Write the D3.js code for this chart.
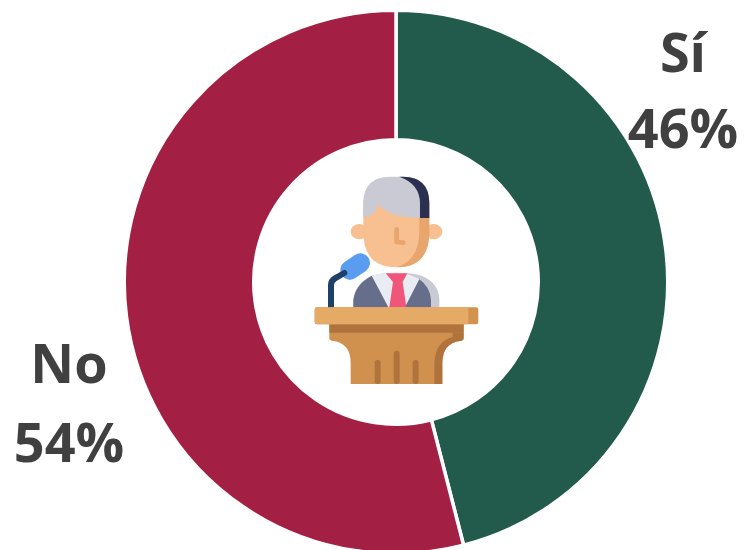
<!DOCTYPE html>
<html>
<head>
<meta charset="utf-8">
<script src="https://d3js.org/d3.v7.min.js"></script>
<style>
    body { margin: 0; background: #fff; }
    svg { display: block; }
    .label { font-family: "Open Sans", sans-serif; font-weight: 700; font-size: 54px; fill: #404040; text-anchor: middle; }
</style>
</head>
<body>
<script>
const categories = ['Sí', 'No'];
const values = [46, 54];
const colors = ['#225a4c', '#a32044'];

const w = 744, h = 550;
const cx = 396, cy = 282;
const outer = 271.75, inner = 142.25;

const svg = d3.select('body').append('svg')
    .attr('width', w)
    .attr('height', h);

const pie = d3.pie().sort(null).value(d => d.value);
const arc = d3.arc().innerRadius(inner).outerRadius(outer);
const color = d3.scaleOrdinal(categories, colors);

const slices = categories.map((c, i) => ({ name: c, value: values[i] }));

svg.append('g')
    .attr('transform', 'translate(' + cx + ',' + cy + ')')
    .selectAll('path')
    .data(pie(slices))
    .enter()
    .append('path')
    .attr('d', arc)
    .attr('fill', d => color(d.data.name))
    .attr('stroke', '#fff')
    .attr('stroke-width', 3.5);

// labels sit outside the ring, one per slice
const labelPos = { 'Sí': [683, 72, 148], 'No': [69, 383, 462] };

slices.forEach(s => {
    const p = labelPos[s.name];
    svg.append('text').attr('class', 'label').attr('x', p[0]).attr('y', p[1]).text(s.name);
    svg.append('text').attr('class', 'label').attr('x', p[0]).attr('y', p[2]).text(s.value + '%');
});

// speaker icon in the hole, drawn in 3x units
const icon = svg.append('g').attr('transform', 'translate(300,160) scale(0.3333)');

function shape(d, fill) {
    icon.append('path').attr('d', d).attr('fill', fill);
}
function line(d, stroke, width) {
    icon.append('path').attr('d', d).attr('fill', 'none').attr('stroke', stroke)
        .attr('stroke-width', width).attr('stroke-linecap', 'round').attr('stroke-linejoin', 'round');
}

// ears
icon.append('ellipse').attr('cx', 178).attr('cy', 215).attr('rx', 26).attr('ry', 23).attr('fill', '#f8bf90');
icon.append('ellipse').attr('cx', 401).attr('cy', 215).attr('rx', 26).attr('ry', 23).attr('fill', '#f8bf90');
// face
shape('M190,120 L190,215 Q190,322 290,322 Q388,322 388,215 L388,120 Z', '#f8bf90');
shape('M358,170 L388,170 L388,215 Q388,322 290,322 Q358,300 358,215 Z', '#e8a56e');
line('M290,208 L290,246 L310,248', '#e8a56e', 14);
// hair
shape('M190,172 L190,130 Q190,50 270,50 L310,50 Q388,50 388,130 L388,174 L360,174 Q265,172 235,133 Q225,170 190,172 Z', '#c9cad3');
shape('M298,50 L310,50 Q388,50 388,130 L388,174 L360,174 L360,130 Q360,72 298,50 Z', '#2c3050');
// body
shape('M160,442 L160,420 Q165,370 215,347 Q240,338 290,338 Q340,338 365,347 Q418,370 418,420 L418,442 Z', '#c9cad3');
shape('M215,347 Q240,338 290,338 Q325,338 358,358 L315,442 L265,442 Z', '#e9edf3');
shape('M160,442 L160,420 Q165,375 215,347 L265,442 Z', '#676e8b');
shape('M358,358 L315,442 L393,442 L393,420 Q390,380 358,358 Z', '#676e8b');
shape('M257,340 L322,340 L308,366 L319,442 L268,442 L279,366 Z', '#f0567a');
// microphone
line('M150,330 L181,309', '#5a9df0', 58);
line('M93,442 L93,375 Q93,362 105,355 L133,339', '#1f4068', 18);
// lectern
shape('M88,490 L491,490 L491,535 Q491,542 480,543 Q427,550 427,610 L427,672 L152,672 L152,610 Q152,550 100,543 Q88,542 88,535 Z', '#d0914f');
shape('M88,490 L491,490 L491,518 L88,518 Z', '#b0733c');
shape('M458,518 L491,518 L491,535 Q491,542 480,543 Q427,550 427,610 L427,672 L403,672 L403,610 Q405,545 458,530 Z', '#b0733c');
icon.append('rect').attr('x', 44).attr('y', 442).attr('width', 491).attr('height', 51).attr('rx', 7).attr('fill', '#d2934f');
icon.append('path').attr('d', 'M51,442 L505,442 L505,493 L51,493 Q44,493 44,486 L44,449 Q44,442 51,442 Z').attr('fill', '#e6aa67');
icon.append('rect').attr('x', 224).attr('y', 600).attr('width', 18).attr('height', 72).attr('rx', 9).attr('fill', '#b0733c');
icon.append('rect').attr('x', 281).attr('y', 572).attr('width', 18).attr('height', 100).attr('rx', 9).attr('fill', '#b0733c');
icon.append('rect').attr('x', 338).attr('y', 600).attr('width', 18).attr('height', 72).attr('rx', 9).attr('fill', '#b0733c');
</script>
</body>
</html>
